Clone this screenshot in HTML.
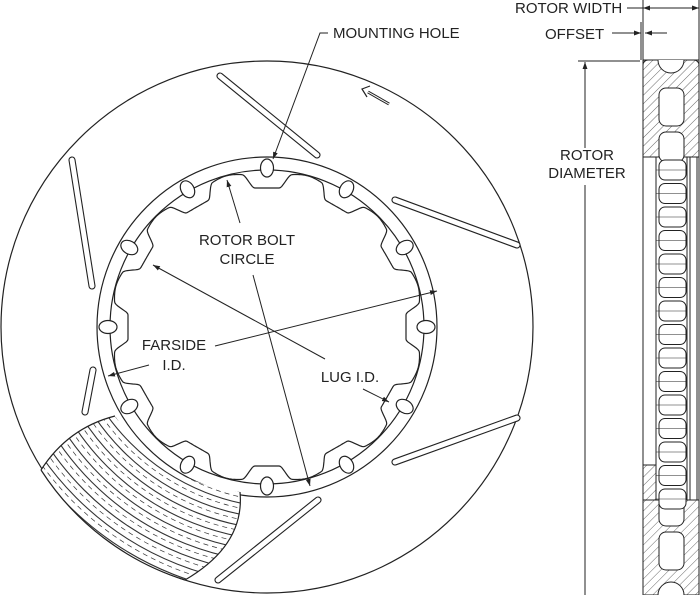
<!DOCTYPE html>
<html><head><meta charset="utf-8"><style>
html,body{margin:0;padding:0;background:#fff;}
svg{display:block;}
text{font-family:"Liberation Sans",Arial,sans-serif;font-size:15px;fill:#222;}
</style></head><body>
<svg id="s" width="700" height="595" viewBox="0 0 700 595" xmlns="http://www.w3.org/2000/svg">
<defs>
<marker id="a" viewBox="0 0 10 10" refX="10" refY="5" markerWidth="7" markerHeight="7" orient="auto-start-reverse"><path d="M0,1.5 L10,5 L0,8.5z" fill="#222"/></marker>
<pattern id="h" width="6" height="6" patternUnits="userSpaceOnUse" patternTransform="rotate(45)"><line x1="0" y1="0" x2="0" y2="6" stroke="#444" stroke-width="0.8"/></pattern>
<clipPath id="cut"><path d="M41,470 A266,266 0 0 0 185,580 Q245,545 240,492 A170,170 0 0 1 115,416 Q68,428 41,470z"/></clipPath>
</defs>
<g fill="none" stroke="#222" stroke-width="1.2">
<circle cx="267" cy="327" r="266"/>
<circle cx="267" cy="327" r="170"/>
<circle cx="267" cy="327" r="157"/>
<g id="slots" stroke-width="1.1"></g>
<path id="scal" fill="#fff"/>
<g id="holes" fill="#fff"></g>
</g>
<g id="cutg" clip-path="url(#cut)" fill="none" stroke="#333"></g>
<path d="M41,470 A266,266 0 0 0 185,580 Q245,545 240,492 M115,416 Q68,428 41,470" fill="none" stroke="#222" stroke-width="1.2"/>
<g stroke="#222" stroke-width="1" fill="none">
<line x1="389" y1="104" x2="368" y2="92" stroke-width="3"/><line x1="389" y1="104" x2="368" y2="92" stroke="#fff" stroke-width="1"/>
<path d="M370,86 L362,89 L367,97" stroke-width="1.2"/>
<polyline points="328,33 320,33 273,159" marker-end="url(#a)"/>
<line x1="240" y1="223" x2="227" y2="180" marker-end="url(#a)"/>
<line x1="253" y1="275" x2="310" y2="486" marker-end="url(#a)"/>
<line x1="215" y1="346" x2="437" y2="291" marker-end="url(#a)"/>
<line x1="325" y1="359" x2="153" y2="265" marker-end="url(#a)"/>
<line x1="363" y1="389" x2="389" y2="402" marker-end="url(#a)"/>
<line x1="149" y1="365" x2="108" y2="376" marker-end="url(#a)"/>
</g>
<text x="333" y="38">MOUNTING HOLE</text>
<text x="247" y="245" text-anchor="middle">ROTOR BOLT</text>
<text x="247" y="264" text-anchor="middle">CIRCLE</text>
<text x="174" y="350" text-anchor="middle">FARSIDE</text>
<text x="174" y="370" text-anchor="middle">I.D.</text>
<text x="350" y="382" text-anchor="middle">LUG I.D.</text>
<!-- side view -->
<g stroke="#222" stroke-width="1" fill="none">
<line x1="627" y1="8" x2="643" y2="8"/>
<line x1="643" y1="8" x2="699" y2="8" marker-start="url(#a)" marker-end="url(#a)"/>
<line x1="643" y1="0" x2="643" y2="60"/><line x1="699" y1="0" x2="699" y2="60"/>
<line x1="612" y1="33" x2="641" y2="33" marker-end="url(#a)"/>
<line x1="667" y1="33" x2="645" y2="33" marker-end="url(#a)"/>
<line x1="641" y1="22" x2="641" y2="60"/>
<line x1="578" y1="61" x2="640" y2="61"/>
<line x1="585" y1="150" x2="585" y2="62" marker-end="url(#a)"/>
<line x1="585" y1="185" x2="585" y2="595"/>
<rect x="643" y="60" width="56" height="97" fill="url(#h)"/>
<rect x="643" y="500" width="56" height="95" fill="url(#h)"/>
<rect x="643" y="157" width="13" height="343" fill="#fff"/>
<rect x="643" y="60" width="56" height="540" rx="5"/>
<line x1="656" y1="157" x2="656" y2="500"/>
<line x1="687" y1="157" x2="687" y2="500"/>
<line x1="690" y1="157" x2="690" y2="500"/>
<line x1="697" y1="157" x2="697" y2="500"/>
<line x1="643" y1="157" x2="699" y2="157"/>
<line x1="643" y1="500" x2="699" y2="500"/>
<path d="M658,60 A13,13 0 0 0 684,60" fill="#fff"/>
<path d="M658,595 A13,13 0 0 1 684,595" fill="#fff"/>
<rect x="659" y="88" width="25" height="38" rx="7" fill="#fff"/>
<rect x="659" y="132" width="25" height="30" rx="7" fill="#fff"/>
<rect x="659" y="532" width="25" height="38" rx="7" fill="#fff"/>
<rect x="659" y="498" width="25" height="28" rx="7" fill="#fff"/>
<rect x="643" y="465" width="13" height="35" fill="url(#h)"/>
<g id="vanes" fill="#fff"></g>
<g id="hat"></g>
</g>
<rect x="548" y="148" width="76" height="36" fill="#fff"/>
<text x="587" y="160" text-anchor="middle">ROTOR</text>
<text x="587" y="178" text-anchor="middle">DIAMETER</text>
<text x="515" y="13">ROTOR WIDTH</text>
<text x="545" y="39">OFFSET</text>
</svg>
<script>
var NS="http://www.w3.org/2000/svg";
function el(p,t,a){var e=document.createElementNS(NS,t);for(var k in a)e.setAttribute(k,a[k]);document.getElementById(p).appendChild(e);return e;}
var cx=267,cy=327;
[[220,76,317,155],[72,160,92,286],[395,200,517,245],[395,462,517,418],[218,580,318,500],[93,370,85,412]].forEach(function(s){
 var dx=s[2]-s[0],dy=s[3]-s[1],L=Math.hypot(dx,dy),ang=Math.atan2(dy,dx)*180/Math.PI;
 el("slots","rect",{x:s[0]-3,y:s[1]-3,width:L+6,height:6,rx:3,transform:"rotate("+ang+" "+s[0]+" "+s[1]+")",fill:"#fff"});
});
var d="";
for(var i=0;i<=720;i++){var t=i/2;var m=((t%30)+30)%30;var dd=Math.abs(m>15?m-30:m);
 var u=Math.min(1,Math.max(0,(dd-5)/4.5));u=u*u*(3-2*u);
 var r=139/Math.cos(Math.min(dd,5)*Math.PI/180)+(155-140)*u;
 if(dd>9.5){r+=2*Math.sin(Math.min(1,(dd-9.5)/5.5)*Math.PI/2);}
 var a=t*Math.PI/180;d+=(i?"L":"M")+(cx+r*Math.cos(a)).toFixed(1)+","+(cy-r*Math.sin(a)).toFixed(1);}
document.getElementById("scal").setAttribute("d",d+"z");
for(var k=0;k<12;k++){var a=k*30*Math.PI/180,r=159;var x=cx+r*Math.cos(a),y=cy-r*Math.sin(a);
 el("holes","ellipse",{cx:x.toFixed(1),cy:y.toFixed(1),rx:9,ry:6.5,transform:"rotate("+(-k*30)+" "+x.toFixed(1)+" "+y.toFixed(1)+")"});}
el("cutg","rect",{x:0,y:390,width:270,height:205,fill:"#fff",stroke:"none"});
for(var r=170;r<270;r+=11){el("cutg","circle",{cx:cx+20,cy:cy-40,r:r+40,"stroke-width":1.1});
 el("cutg","circle",{cx:cx+20,cy:cy-40,r:r+45,"stroke-width":0.7,"stroke-dasharray":"5 4"});}
for(var y=160;y<495;y+=23.5){el("vanes","rect",{x:659,y:y,width:27,height:20,rx:6});}
for(var y=160;y<495;y+=23.5){el("hat","line",{x1:656,y1:y+10,x2:687,y2:y+10,"stroke-width":0.5});}
</script>
</body></html>
